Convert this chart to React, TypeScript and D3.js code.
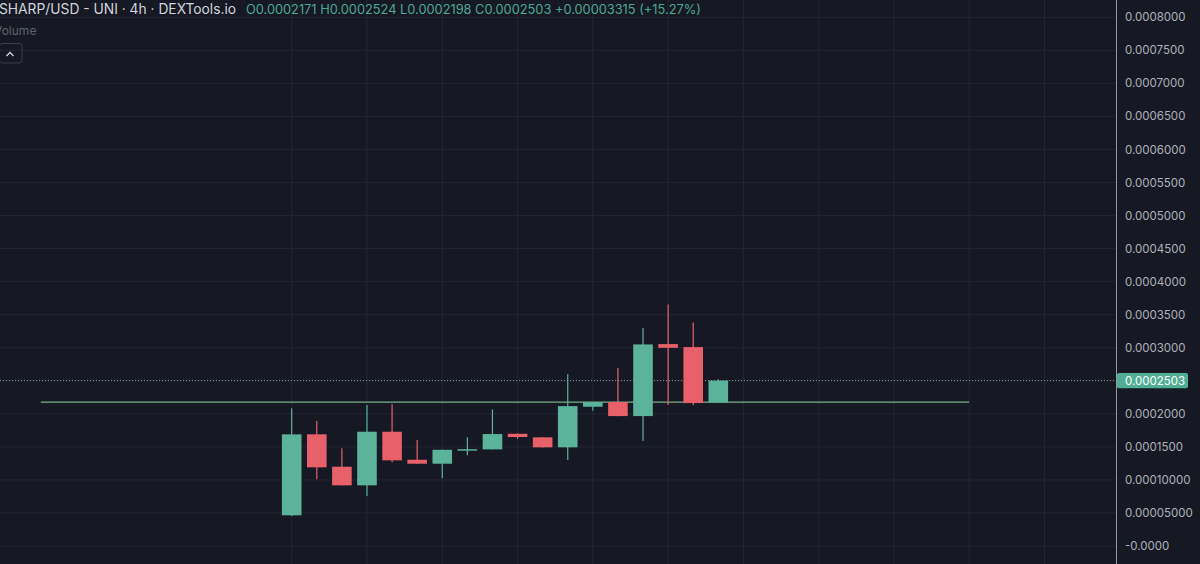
import React from "react";
import * as d3 from "d3";

const W = 1200;
const H = 564;

// OHLC candles (4h)
const opens = [0.0000464, 0.000169, 0.00012, 0.0000918, 0.0001729, 0.0001305, 0.0001245, 0.0001457, 0.0001462, 0.0001698, 0.0001644, 0.0001493, 0.0002107, 0.0002178, 0.0001966, 0.0003055, 0.000301, 0.0002171];
const highs = [0.0002083, 0.000189, 0.0001478, 0.0002132, 0.0002143, 0.0001603, 0.0001458, 0.0001644, 0.0002067, 0.00017, 0.0001645, 0.0002597, 0.000218, 0.0002692, 0.0003297, 0.0003655, 0.0003383, 0.0002524];
const lows = [0.0000455, 0.0001009, 0.0000915, 0.0000756, 0.0001266, 0.000124, 0.0001024, 0.0001372, 0.000146, 0.0001618, 0.000149, 0.0001301, 0.0002046, 0.0001963, 0.0001588, 0.0002132, 0.0002128, 0.0002171];
const closes = [0.0001689, 0.000119, 0.0000918, 0.0001729, 0.0001296, 0.0001245, 0.0001456, 0.0001465, 0.0001694, 0.0001649, 0.0001493, 0.0002117, 0.0002178, 0.0001966, 0.000305, 0.0002999, 0.0002163, 0.0002503];

const tickValues = [0.0008, 0.00075, 0.0007, 0.00065, 0.0006, 0.00055, 0.0005, 0.00045, 0.0004, 0.00035, 0.0003, 0.0002, 0.00015, 0.0001, 0.00005, 0];
const tickLabels = ["0.0008000", "0.0007500", "0.0007000", "0.0006500", "0.0006000", "0.0005500", "0.0005000", "0.0004500", "0.0004000", "0.0003500", "0.0003000", "0.0002000", "0.0001500", "0.00010000", "0.00005000", "-0.0000"];

const lastPrice = 0.0002503;
const lastPriceLabel = "0.0002503";
const hLineValue = 0.0002178;
const hLineFrom = -10;
const hLineTo = 27;
const gridIdx = [0, 3, 6, 9, 12, 15, 18, 21, 24, 27, 30];

const titleText = "SHARP/USD - UNI · 4h · DEXTools.io";
const ohlcText = "O0.0002171 H0.0002524 L0.0002198 C0.0002503 +0.00003315 (+15.27%)";

const BG = "#161924";
const GRID = "#232633";
const UP = "#5ab39a";
const DOWN = "#e8606a";
const AXIS_TEXT = "#aeb1ba";

export default function App() {
  const y = d3.scaleLinear().domain([0, 0.0008]).range([546, 17.3]);
  const x = d3.scaleLinear().domain([0, 17]).range([291.7, 718.3]);
  const bodyW = 19.6;
  const axisX = 1116.5;
  const font = "Inter, 'Noto Sans', sans-serif";

  return (
    <svg width={W} height={H} style={{ position: "absolute", left: 0, top: 0, display: "block" }}>
      <rect x={0} y={0} width={W} height={H} fill={BG} />
      {/* horizontal grid */}
      {tickValues.map((v, i) => (
        <line key={"hg" + i} x1={0} x2={axisX} y1={y(v)} y2={y(v)} stroke={GRID} strokeWidth={1} />
      ))}
      <line x1={0} x2={axisX} y1={y(0.00025)} y2={y(0.00025)} stroke={GRID} strokeWidth={1} />
      {/* vertical grid */}
      {gridIdx.map((g, i) => (
        <line key={"vg" + i} x1={x(g)} x2={x(g)} y1={0} y2={H} stroke={GRID} strokeWidth={1} />
      ))}
      {/* horizontal drawn line */}
      <line x1={x(hLineFrom)} x2={x(hLineTo)} y1={y(hLineValue)} y2={y(hLineValue)} stroke="#78b28a" strokeWidth={1.3} />
      {/* last price dotted line */}
      <line x1={0} x2={axisX} y1={y(lastPrice)} y2={y(lastPrice)} stroke="#7f9c98" strokeWidth={1} strokeDasharray="1,2" />
      {/* candles */}
      {opens.map((o, i) => {
        const c = closes[i];
        const up = c >= o;
        const col = up ? UP : DOWN;
        const top = y(Math.max(o, c));
        const bot = y(Math.min(o, c));
        const cx = x(i);
        return (
          <g key={"c" + i}>
            <line x1={cx} x2={cx} y1={y(highs[i])} y2={y(lows[i])} stroke={col} strokeWidth={1.2} />
            <rect x={cx - bodyW / 2} y={top} width={bodyW} height={Math.max(bot - top, 1.5)} fill={col} />
          </g>
        );
      })}
      {/* right axis */}
      <line x1={axisX} x2={axisX} y1={0} y2={H} stroke="#9598a1" strokeWidth={1} />
      {tickValues.map((v, i) => (
        <text key={"tl" + i} x={1125} y={y(v)} dy="0.35em" fill={AXIS_TEXT} fontFamily={font} fontSize={11.5}>
          {tickLabels[i]}
        </text>
      ))}
      <rect x={1117} y={y(lastPrice) - 7.6} width={71} height={15.2} rx={2} fill="#4fae94" />
      <text x={1125} y={y(lastPrice)} dy="0.35em" fill="#ffffff" fontFamily={font} fontSize={11.5}>
        {lastPriceLabel}
      </text>
      {/* header */}
      <text x={-1} y={14} fill="#d1d4dc" fontFamily={font} fontSize={13.8}>
        {titleText}
      </text>
      <text x={246} y={14} fill="#4fa893" fontFamily={font} fontSize={12.8}>
        {ohlcText}
      </text>
      <text x={-6} y={35} fill="#5d606b" fontFamily={font} fontSize={12}>
        Volume
      </text>
      <rect x={-0.5} y={43.5} width={22.5} height={19.5} rx={3} fill="none" stroke="#3a3e4a" strokeWidth={1} />
      <path d="M6.5,56 L10,52.5 L13.5,56" fill="none" stroke="#d1d4dc" strokeWidth={1.3} />
    </svg>
  );
}
